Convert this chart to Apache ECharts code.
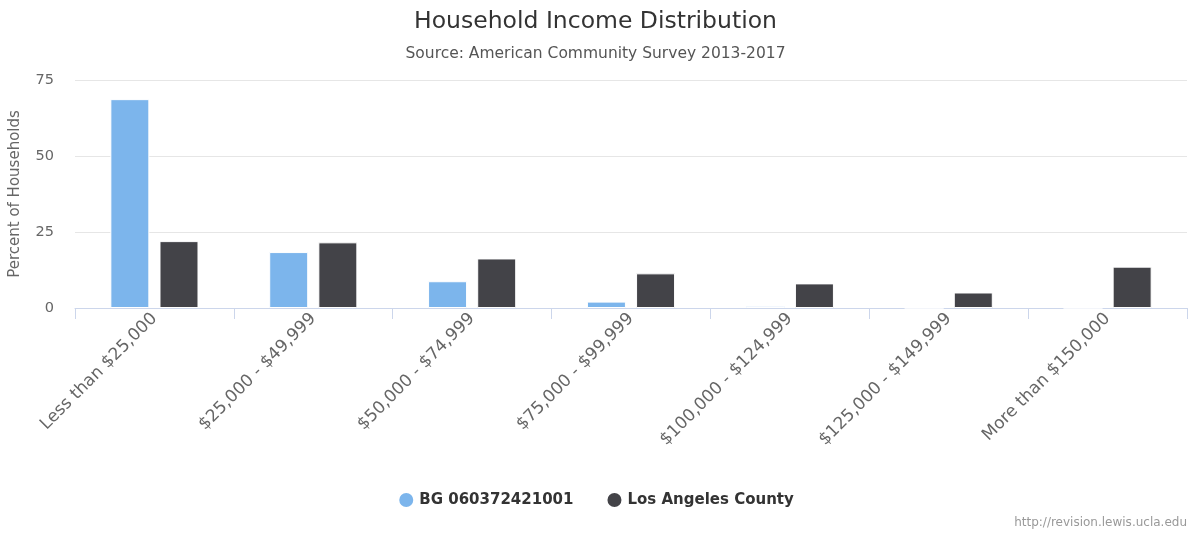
<!DOCTYPE html>
<html>
<head>
<meta charset="utf-8">
<script src="https://cdn.jsdelivr.net/npm/echarts@6/dist/echarts.min.js"></script>
<style>
  html, body { margin: 0; padding: 0; background: #fff; }
  #chart { width: 1191px; height: 533px; }
</style>
</head>
<body>
<div id="chart"></div>
<script>
const categories = [
    'Less than $25,000',
    '$25,000 - $49,999',
    '$50,000 - $74,999',
    '$75,000 - $99,999',
    '$100,000 - $124,999',
    '$125,000 - $149,999',
    'More than $150,000'
];
const blockGroup = [68.7, 18.4, 8.8, 2.1, 0.7, 0, 0];
const laCounty = [22.0, 21.6, 16.3, 11.4, 8.1, 5.1, 13.6];
const yTicks = [0, 25, 50, 75];

const FONT = '"DejaVu Sans", sans-serif';

const chart = echarts.init(document.getElementById('chart'));

chart.setOption({
    animation: false,
    title: {
        text: 'Household Income Distribution',
        subtext: 'Source: American Community Survey 2013-2017',
        left: 'center',
        top: 5,
        itemGap: 12,
        textStyle: { fontFamily: FONT, fontSize: 23.5, fontWeight: 'normal', color: '#333' },
        subtextStyle: { fontFamily: FONT, fontSize: 15.5, color: '#555' }
    },
    legend: {
        bottom: 19,
        left: 'center',
        icon: 'circle',
        itemWidth: 16,
        itemHeight: 16,
        itemGap: 32,
        textStyle: { fontFamily: FONT, fontSize: 15, fontWeight: 'bold', color: '#333' }
    },
    grid: { left: 74, right: 4, top: 80, bottom: 225 },
    xAxis: {
        type: 'category',
        data: categories,
        axisLine: { lineStyle: { color: '#ccd6eb' } },
        axisTick: { show: true, length: 11, lineStyle: { color: '#ccd6eb' } },
        axisLabel: {
            rotate: 45,
            margin: 8,
            fontFamily: FONT,
            fontSize: 17,
            color: '#666'
        }
    },
    yAxis: {
        type: 'value',
        min: 0,
        max: yTicks[yTicks.length - 1],
        interval: 25,
        name: 'Percent of Households',
        nameLocation: 'middle',
        nameGap: 52,
        nameTextStyle: { fontFamily: FONT, fontSize: 15, color: '#666' },
        axisLabel: { fontFamily: FONT, fontSize: 14.5, color: '#666', margin: 21 },
        splitLine: { lineStyle: { color: '#e6e6e6' } }
    },
    series: [
        {
            name: 'BG 060372421001',
            type: 'bar',
            data: blockGroup,
            barWidth: 39,
            barGap: '26%',
            itemStyle: { color: '#7cb5ec', borderColor: '#fff', borderWidth: 1 }
        },
        {
            name: 'Los Angeles County',
            type: 'bar',
            data: laCounty,
            barWidth: 39,
            itemStyle: { color: '#434348', borderColor: '#fff', borderWidth: 1 }
        }
    ],
    graphic: [{
        type: 'text',
        right: 4,
        bottom: 4,
        style: {
            text: 'http://revision.lewis.ucla.edu',
            fontFamily: FONT,
            fontSize: 12,
            fill: '#999'
        }
    }]
});

window.addEventListener('resize', () => chart.resize());
</script>
</body>
</html>
